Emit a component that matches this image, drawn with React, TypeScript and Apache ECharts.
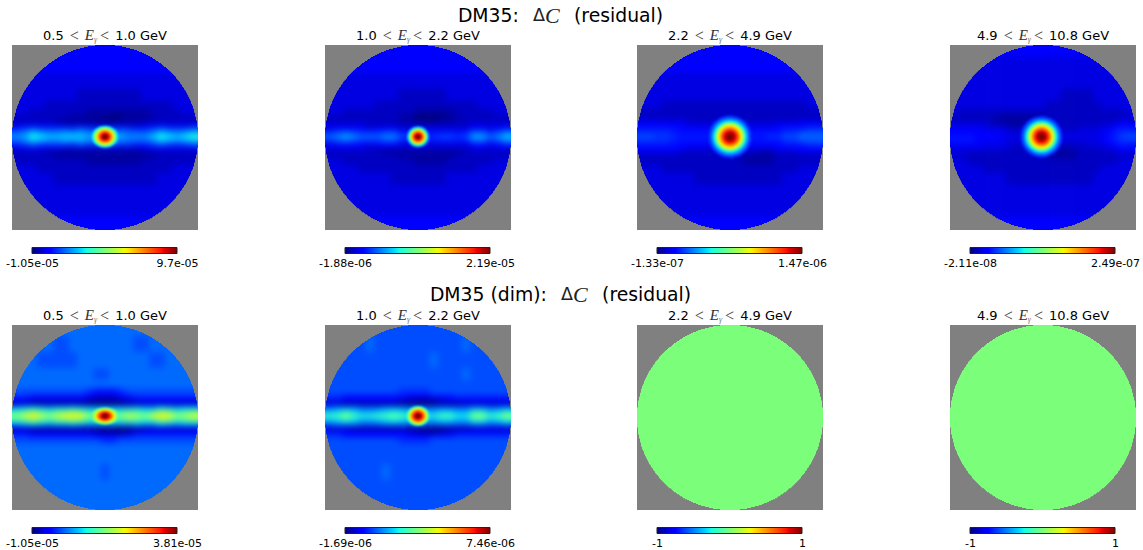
import React, { useEffect, useRef } from "react";
import * as echarts from "echarts";

const W = 1143;
const H = 550;

const titles = ["DM35:", "DM35 (dim):"];
const energyLow = ["0.5", "1.0", "2.2", "4.9"];
const energyHigh = ["1.0", "2.2", "4.9", "10.8"];
const barMin = ["-1.05e-05", "-1.88e-06", "-1.33e-07", "-2.11e-08", "-1.05e-05", "-1.69e-06", "-1", "-1"];
const barMax = ["9.7e-05", "2.19e-05", "1.47e-06", "2.49e-07", "3.81e-05", "7.46e-06", "1", "1"];

// cell edges in the sky-map plane
const xEdges = [-103, -84, -76, -68, -60, -52, -44, -36, -28, -20, -12, -4, 4, 12, 20, 28, 36, 44, 52, 60, 68, 76, 84, 103];
const yEdges = [-103, -80, -64, -48, -36, -28, -22, -18, -14, -10, -6, -2, 2, 6, 10, 14, 18, 22, 28, 36, 48, 64, 80, 103];

// each character is a position on the colour bar, base 36 (0 = bottom, z = top)
const p1Rows = [
  "44444444444444444444444",
  "44444444444444444444444",
  "33333333333333333333333",
  "33333333222222223333333",
  "33332222222222222222333",
  "33222222211111111222233",
  "22222221111100111122222",
  "22222111110001111222222",
  "33333322222222223333333",
  "56766666766666655676667",
  "89ba99a9a99999888" + "9ba9ab",
  "9adcbbbcbaaaaa999bdcbce",
  "89ba99a9a99999888" + "9ba9ab",
  "56766666766666655676667",
  "33333322222222223333333",
  "22221111111111111222222",
  "22222111111111111122222",
  "22222222211111112222222",
  "33322222222222222222333",
  "33333222222222222233333",
  "33333333333333333333333",
  "33333333333333333333333",
  "44444444444444444444444",
];
const p2Rows = [
  "44444444444444444444444",
  "44444444444444444444444",
  "33333333333333333333333",
  "33333333322222233333333",
  "33333322222222222223333",
  "33222222222111112222233",
  "22222222211000011222222",
  "22222222211000112222222",
  "33333222222222222233333",
  "3444434443" + "3333333344" + "345",
  "6787666775" + "5555555588" + "679",
  "89a9888997" + "77667767aa" + "89b",
  "6787666775" + "5555555588" + "679",
  "3444434443" + "3333333344" + "345",
  "33333222222222222233333",
  "22222221111111111222222",
  "22222222211111112222222",
  "33222222222111122222233",
  "33332222222222222223333",
  "33333333222222233333333",
  "33333333333333333333333",
  "33333333333333333333333",
  "44444444444444444444444",
];
const p3Rows = [
  "44444444444444444444444",
  "44444444444444444444444",
  "33333333333333333333333",
  "33333333333333333333333",
  "33322222222222222222233",
  "22222222222222222222222",
  "22222222222222222222222",
  "33333322222222222222333",
  "44444433333333333444444",
  "55555444444444444455566",
  "66665555555555555566777",
  "77666555555555556677888",
  "66665555555555555566777",
  "55555444444444444455566",
  "44444433333333333444444",
  "33333222222222211222333",
  "22222222222221111222222",
  "22222222222221111222222",
  "33322222222222222222333",
  "33333332222222222233333",
  "33333333333333333333333",
  "33333333333333333333333",
  "44444444444444444444444",
];
const p4Rows = [
  "44444444444444444444444",
  "33333333333333333333333",
  "33333333333333333333333",
  "33333333333333222233333",
  "33333333333322222223333",
  "32222222222222222222223",
  "22222211111122222222222",
  "22222111111122222222233",
  "33333221112222222223344",
  "44443332222222223333455",
  "44444443333333333334566",
  "55544433333333333334567",
  "55544443333333333334566",
  "44443333222222222333455",
  "33333332222111122223344",
  "33222222222111112222233",
  "22222222222211112222222",
  "33222222222222222222233",
  "33332222222222222223333",
  "33333332222222222233333",
  "33333333333333333333333",
  "33333333333333333333333",
  "44444444444444444444444",
];
const p5Rows = [
  "88888888888888888888888",
  "88888778888888877888888",
  "88877777888888888778888",
  "88888888887788888888888",
  "88888888888888888888888",
  "7777777776" + "5556777777" + "777",
  "6655555554" + "3334566666" + "666",
  "4433333332" + "1112344444" + "444",
  "2211111110" + "0000112222" + "222",
  "abcbabbcba" + "aaaaabaacb" + "abb",
  "fhjhfhijif" + "eeefhgefji" + "fgh",
  "iknkikmnmi" + "hhhikjimnm" + "ijm",
  "fhjhfhijif" + "eeefhgefji" + "fgh",
  "abcbabbcba" + "aaaaabaacb" + "abb",
  "2211111111" + "0000011222" + "222",
  "4433333333" + "2110234444" + "444",
  "6655555555" + "4445566666" + "666",
  "7777777777" + "7667777777" + "777",
  "88888888888888888888888",
  "88888888888888888888888",
  "88888888888788888888888",
  "88888888888888888888888",
  "88888888888888888888888",
];
const p6Rows = [
  "77777777777777777777777",
  "77777877777777777877777",
  "77777777777778777777777",
  "77777777777777777877777",
  "77777777777777777777777",
  "7777777776" + "6667777777" + "777",
  "6655555555" + "4445556666" + "666",
  "5544444443" + "2112344444" + "444",
  "2211111110" + "0000111222" + "222",
  "8999888999" + "8888888899" + "889",
  "bcecaabcdc" + "bbaaccaaee" + "bce",
  "fgigeefghg" + "ffeeggddii" + "fgi",
  "bcecaabcdc" + "bbaaccaaee" + "bce",
  "8999888999" + "8888888899" + "889",
  "2221111111" + "0000011122" + "222",
  "5544444444" + "3211234444" + "444",
  "6655555555" + "4445556666" + "666",
  "7777777776" + "6667777777" + "777",
  "77777777777777777777777",
  "77777777777777777777777",
  "77777778777777777777777",
  "77777777777777777777777",
  "77777777777777777777777",
];
const flatLevel = 0.5;

// central source: [position on colour bar, half width, half height]
const p1Rings = [[0.34, 13.5, 11], [0.42, 12, 10], [0.5, 11, 9.2], [0.6, 10, 8.3], [0.7, 8.3, 7], [0.8, 6.6, 5.6], [0.88, 5.1, 4.4], [0.95, 3.8, 3.2], [1, 2.5, 2.1]];
const p2Rings = [[0.3, 11, 10.5], [0.4, 9.5, 9], [0.5, 8.7, 8.2], [0.6, 8, 7.5], [0.7, 6.8, 6.5], [0.8, 5.5, 5.2], [0.88, 4.4, 4.1], [0.95, 3.2, 3], [1, 2.1, 2]];
const p3Rings = [[0.16, 22, 21.5], [0.22, 20, 19.5], [0.3, 18, 17.5], [0.38, 16, 15.5], [0.46, 14.7, 14.3], [0.56, 13.5, 13.2], [0.65, 12.4, 12.1], [0.74, 10.4, 10.1], [0.83, 8.6, 8.3], [0.9, 6.8, 6.5], [0.96, 5, 4.8], [1, 3.2, 3]];
const p4Rings = [[0.16, 21.5, 21], [0.22, 19.5, 19], [0.3, 17.5, 17], [0.38, 15.6, 15.2], [0.46, 14.3, 14], [0.56, 13.2, 12.9], [0.65, 12.1, 11.8], [0.74, 10.1, 9.9], [0.83, 8.4, 8.1], [0.9, 6.6, 6.4], [0.96, 4.9, 4.7], [1, 3.1, 2.9]];
const p5Rings = [[0.46, 14, 8.5], [0.55, 12, 7.5], [0.64, 10.5, 6.8], [0.72, 8.8, 5.8], [0.8, 7.3, 4.9], [0.88, 5.7, 3.9], [0.95, 4.2, 2.9], [1, 2.6, 1.9]];
const p6Rings = [[0.4, 11.5, 10], [0.5, 10.3, 9], [0.6, 9.3, 8.2], [0.7, 7.9, 7], [0.8, 6.5, 5.7], [0.88, 5.1, 4.5], [0.95, 3.7, 3.2], [1, 2.4, 2.1]];

const panelRows: (string[] | null)[] = [p1Rows, p2Rows, p3Rows, p4Rows, p5Rows, p6Rows, null, null];
const panelRings: number[][][] = [p1Rings, p2Rings, p3Rings, p4Rings, p5Rings, p6Rings, [], []];

const panelLeft = [12, 325, 637, 950];
const panelTop = [45, 325];
const mapCentreY = [136.7, 416];
const PW = 186;
const PH = 185;

const lerp = (x: number, xs: number[], ys: number[]) => {
  for (let i = 1; i < xs.length; i++) {
    if (x <= xs[i]) return ys[i - 1] + ((x - xs[i - 1]) / (xs[i] - xs[i - 1])) * (ys[i] - ys[i - 1]);
  }
  return ys[ys.length - 1];
};
const jet = (t: number) => {
  const r = lerp(t, [0, 0.35, 0.66, 0.89, 1], [0, 0, 1, 1, 0.5]);
  const g = lerp(t, [0, 0.125, 0.375, 0.64, 0.91, 1], [0, 0, 1, 1, 0, 0]);
  const b = lerp(t, [0, 0.11, 0.34, 0.65, 1], [0.5, 1, 1, 0, 0]);
  return `rgb(${Math.round(r * 255)},${Math.round(g * 255)},${Math.round(b * 255)})`;
};

// grey corners with a round, slightly stepped hole
let hole = "";
{
  const pts: number[][] = [];
  for (let y = 0; y < PW; y += 1) {
    const d = y + 0.5 - PW / 2;
    pts.push([Math.round(Math.sqrt(Math.max(0, 93 * 93 - d * d))), y]);
  }
  hole = `M${93 - pts[0][0]} 0`;
  pts.forEach(([h, y]) => { hole += `H${93 - h}V${y + 1}`; });
  for (let i = pts.length - 1; i >= 0; i--) { hole += `H${93 + pts[i][0]}V${pts[i][1]}`; }
  hole += "Z";
}
echarts.graphic.registerShape("cornerMask", echarts.graphic.extendPath(`M0 0H${PW}V${PW}H0Z ${hole}`, {}) as any);
echarts.graphic.registerShape("whiteFrame", echarts.graphic.extendPath(`M-22 -22H${PW + 22}V${PW + 22}H-22Z M0 0V${PW}H${PW}V0Z`, {}) as any);

const buildAxes = () => {
  const grid: any[] = [];
  const xAxis: any[] = [];
  const yAxis: any[] = [];
  panelRows.forEach((_, idx) => {
    const cx = panelLeft[idx % 4] + PW / 2;
    const cy = mapCentreY[idx < 4 ? 0 : 1];
    grid.push({ left: cx - 103, top: cy - 103, width: 206, height: 206, show: false });
    xAxis.push({ type: "value", gridIndex: idx, min: -103, max: 103, show: false });
    yAxis.push({ type: "value", gridIndex: idx, min: -103, max: 103, inverse: true, show: false });
  });
  return { animation: false, grid, xAxis, yAxis };
};

const buildCellOption = () => {
  const series: any[] = [];
  panelRows.forEach((rows, idx) => {
    const cells: number[][] = [];
    if (rows) {
      rows.forEach((s, r) => {
        for (let c = 0; c < s.length; c++) {
          cells.push([xEdges[c], xEdges[c + 1], yEdges[r], yEdges[r + 1], parseInt(s[c], 36) / 35]);
        }
      });
    } else {
      cells.push([-103, 103, -103, 103, flatLevel]);
    }
    series.push({
      type: "custom",
      xAxisIndex: idx,
      yAxisIndex: idx,
      silent: true,
      clip: false,
      data: cells,
      renderItem: (_: any, api: any) => {
        const a = api.coord([api.value(0), api.value(2)]);
        const b = api.coord([api.value(1), api.value(3)]);
        return {
          type: "rect",
          shape: { x: a[0], y: a[1], width: b[0] - a[0] + 0.6, height: b[1] - a[1] + 0.6 },
          style: { fill: jet(api.value(4)) },
        };
      },
    });
  });
  return { ...buildAxes(), series };
};

const buildRingOption = () => {
  const series: any[] = [];
  panelRings.forEach((rings, idx) => {
    if (!rings.length) return;
    series.push({
      type: "custom",
      xAxisIndex: idx,
      yAxisIndex: idx,
      silent: true,
      clip: false,
      data: rings.map((d) => [0, 0, d[1], d[2], d[0]]),
      renderItem: (_: any, api: any) => {
        const c = api.coord([api.value(0), api.value(1)]);
        const s = api.size([api.value(2), api.value(3)]);
        return {
          type: "ellipse",
          shape: { cx: c[0], cy: c[1], rx: s[0], ry: s[1] },
          style: { fill: jet(api.value(4)) },
        };
      },
    });
  });
  return { ...buildAxes(), series };
};

const sans = "'DejaVu Sans'";
const serif = "'Liberation Serif'";

const buildOverlayOption = () => {
  const g: any[] = [];
  const stops = [0, 0.11, 0.125, 0.34, 0.375, 0.5, 0.64, 0.66, 0.89, 0.91, 1].map((o) => ({ offset: o, color: jet(o) }));
  for (let idx = 0; idx < 8; idx++) {
    const col = idx % 4;
    const row = idx < 4 ? 0 : 1;
    const x = panelLeft[col];
    const y = panelTop[row];
    const sy = PH / PW;
    g.push({ type: "whiteFrame", x, y, scaleY: sy, z: 10, silent: true, style: { fill: "#ffffff" } });
    g.push({ type: "cornerMask", x, y, scaleY: sy, z: 11, silent: true, style: { fill: "#808080" } });
    g.push({
      type: "text",
      x: x + PW / 2,
      y: y - 10,
      z: 20,
      silent: true,
      style: {
        text: `{a|${energyLow[col]}}{p|  }{l|<}{p|  }{e|E}{s|γ}{p| }{l|<}{p|  }{a|${energyHigh[col]} GeV}`,
        align: "center",
        verticalAlign: "middle",
        rich: {
          a: { fontFamily: sans, fontSize: 13, fill: "#000" },
          p: { fontFamily: serif, fontSize: 12, fill: "#000" },
          l: { fontFamily: serif, fontSize: 16, fill: "#444" },
          e: { fontFamily: serif, fontStyle: "italic", fontSize: 15, fill: "#333" },
          s: { fontFamily: serif, fontStyle: "italic", fontSize: 8, fill: "#777", verticalAlign: "bottom" },
        },
      },
    });
    const bx = x + 20;
    const by = y + 202.5;
    g.push({
      type: "rect",
      z: 15,
      silent: true,
      shape: { x: bx, y: by, width: 145, height: 6 },
      style: {
        fill: new echarts.graphic.LinearGradient(0, 0, 1, 0, stops),
        stroke: "#222",
        lineWidth: 1,
      },
    });
    g.push({
      type: "text",
      x: bx + 0.5,
      y: y + 218,
      z: 20,
      silent: true,
      style: { text: barMin[idx], align: "center", verticalAlign: "middle", fontFamily: sans, fontSize: 11, fill: "#000" },
    });
    g.push({
      type: "text",
      x: bx + 145.5,
      y: y + 218,
      z: 20,
      silent: true,
      style: { text: barMax[idx], align: "center", verticalAlign: "middle", fontFamily: sans, fontSize: 11, fill: "#000" },
    });
  }
  [15, 294].forEach((y, i) => {
    g.push({
      type: "text",
      x: 560.5,
      y,
      z: 20,
      silent: true,
      style: {
        text: `{t|${titles[i]}}{g|   }{m|Δ}{c|C}{g|   }{t|(residual)}`,
        align: "center",
        verticalAlign: "middle",
        rich: {
          t: { fontFamily: sans, fontSize: 18.8, fill: "#000" },
          g: { fontFamily: sans, fontSize: 15, fill: "#000" },
          m: { fontFamily: sans, fontSize: 17.5, fill: "#222" },
          c: { fontFamily: serif, fontStyle: "italic", fontSize: 22, fill: "#222" },
        },
      },
    });
  });
  return { animation: false, graphic: g };
};

export default function App() {
  const cellRef = useRef<HTMLDivElement>(null);
  const ringRef = useRef<HTMLDivElement>(null);
  const topRef = useRef<HTMLDivElement>(null);
  useEffect(() => {
    document.body.style.margin = "0";
    const a = echarts.init(cellRef.current!, undefined, { renderer: "svg", width: W, height: H });
    a.setOption(buildCellOption());
    const r = echarts.init(ringRef.current!, undefined, { renderer: "svg", width: W, height: H });
    r.setOption(buildRingOption());
    const b = echarts.init(topRef.current!, undefined, { renderer: "svg", width: W, height: H });
    b.setOption(buildOverlayOption());
    return () => {
      a.dispose();
      r.dispose();
      b.dispose();
    };
  }, []);
  const base: React.CSSProperties = { position: "absolute", left: 0, top: 0, width: W, height: H };
  return (
    <div style={{ ...base, overflow: "hidden", background: "#fff" }}>
      <div ref={cellRef} style={{ ...base, filter: "blur(3px)" }} />
      <div ref={ringRef} style={{ ...base, filter: "blur(1.3px)" }} />
      <div ref={topRef} style={base} />
    </div>
  );
}
